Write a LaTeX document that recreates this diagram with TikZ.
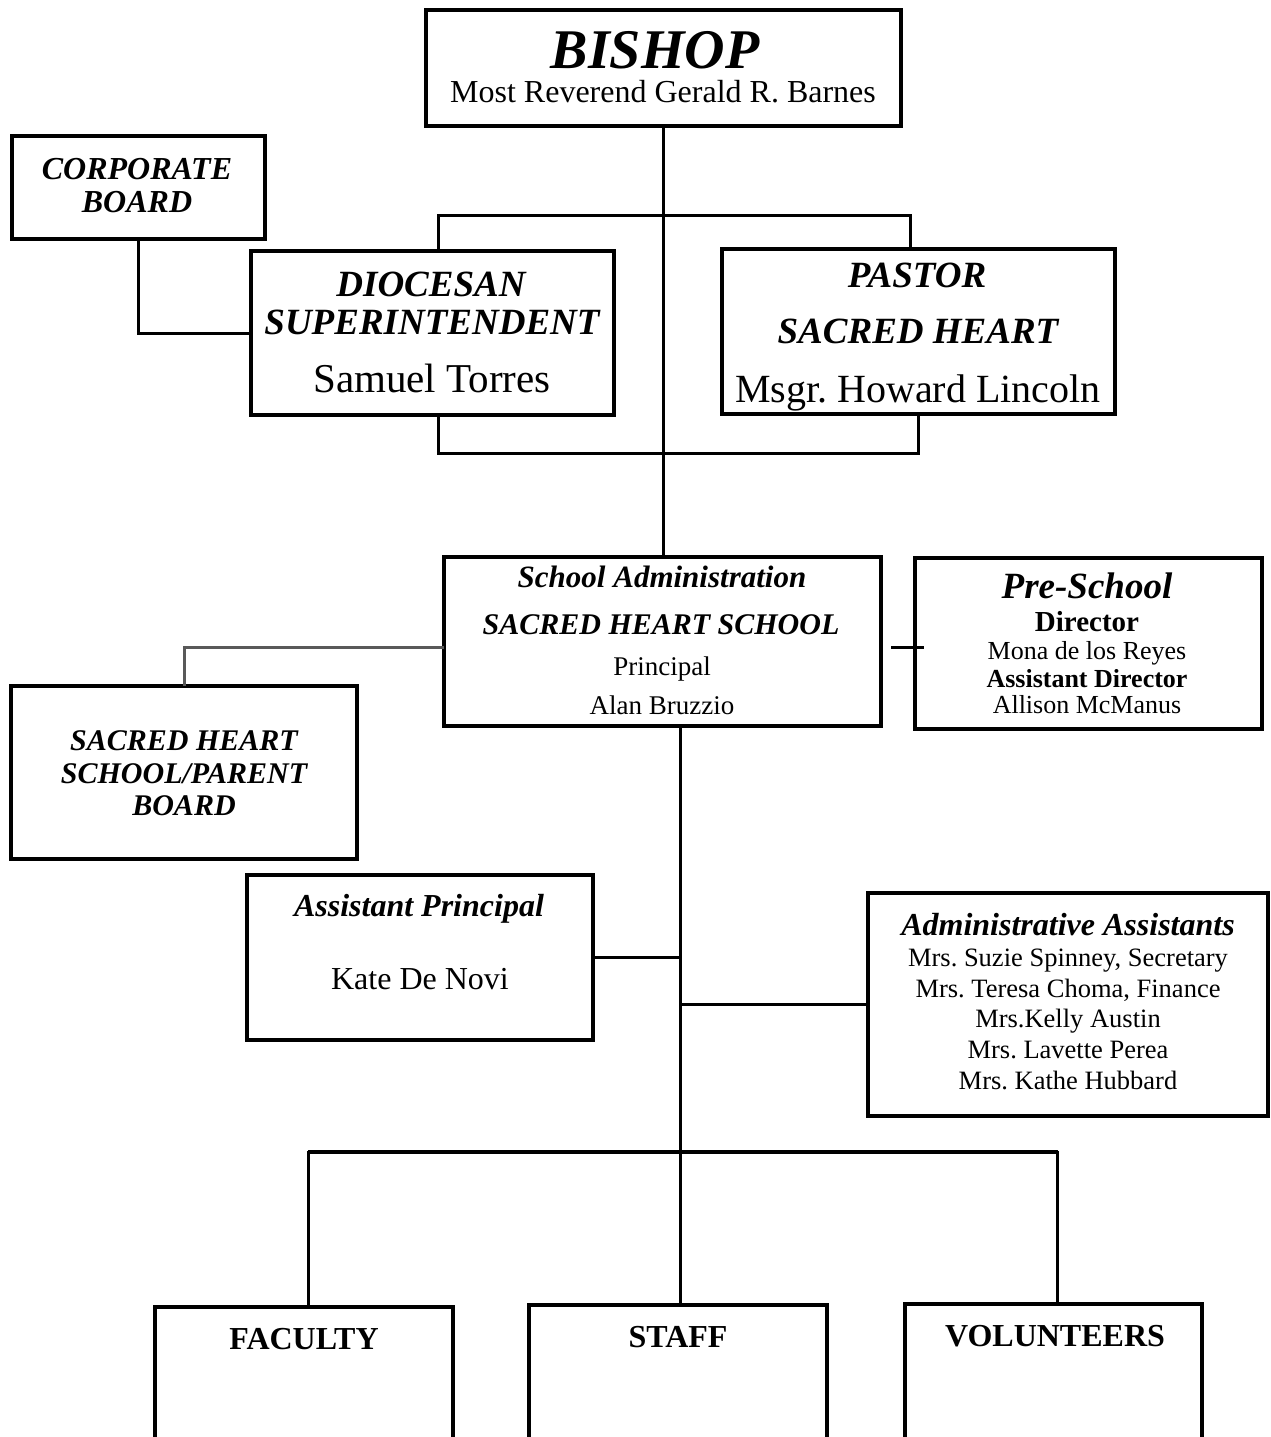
\documentclass[tikz,border=0pt]{standalone}
\usepackage{fontspec}
\setmainfont{Liberation Serif}
\frenchspacing
\newcommand\fsz[1]{\fontsize{#1pt}{#1pt}\selectfont}
\tikzset{
  box/.style={draw, line width=4.5pt, inner sep=0pt, outer sep=0pt},
  lbl/.style={anchor=base, inner sep=0pt, outer sep=0pt},
  link/.style={line width=3pt},
}

\begin{document}
\begin{tikzpicture}[x=1pt,y=-1pt]
\clip (0,0) rectangle (1271,1437) ;
% boxes
\node [box, minimum width=475pt, minimum height=116pt] (bishop) at (663.5,68) {} ;
\node [box, minimum width=253pt, minimum height=103pt] (corp) at (138.5,187.5) {} ;
\node [box, minimum width=363pt, minimum height=164pt] (dioc) at (432.5,333) {} ;
\node [box, minimum width=393pt, minimum height=165pt] (pastor) at (918.5,331.5) {} ;
\node [box, minimum width=437pt, minimum height=169pt] (admin) at (662.5,641.5) {} ;
\node [box, minimum width=347pt, minimum height=171pt] (pre) at (1088.5,643.5) {} ;
\node [box, minimum width=346pt, minimum height=173pt] (parent) at (184,772.5) {} ;
\node [box, minimum width=346pt, minimum height=165pt] (asst) at (420,957.5) {} ;
\node [box, minimum width=400pt, minimum height=223pt] (aides) at (1068,1004.5) {} ;
\node [box, minimum width=298pt, minimum height=173pt] (faculty) at (304,1393.5) {} ;
\node [box, minimum width=298pt, minimum height=175pt] (staff) at (678,1392.5) {} ;
\node [box, minimum width=297pt, minimum height=176pt] (volunteers) at (1053.5,1392) {} ;

% texts
\node [lbl] (bishopA) at (655,68) {\fsz{56}\bfseries\itshape BISHOP} ;
\node [lbl] (bishopB) at (663,102) {\fsz{32}Most Reverend Gerald R. Barnes} ;
\node [lbl] (corpA) at (137,179) {\fsz{32}\bfseries\itshape CORPORATE} ;
\node [lbl] (corpB) at (137,212) {\fsz{32}\bfseries\itshape BOARD} ;
\node [lbl] (diocA) at (431,296) {\fsz{37}\bfseries\itshape DIOCESAN} ;
\node [lbl] (diocB) at (432,334) {\fsz{37}\bfseries\itshape SUPERINTENDENT} ;
\node [lbl] (diocC) at (432,392) {\fsz{41}Samuel Torres} ;
\node [lbl] (pastorA) at (917,287) {\fsz{37}\bfseries\itshape PASTOR} ;
\node [lbl] (pastorB) at (918,343) {\fsz{37}\bfseries\itshape SACRED HEART} ;
\node [lbl] (pastorC) at (918,402) {\fsz{40}Msgr. Howard Lincoln} ;
\node [lbl] (adminA) at (662,587) {\fsz{31}\bfseries\itshape School Administration} ;
\node [lbl] (adminB) at (661,634) {\fsz{30}\bfseries\itshape SACRED HEART SCHOOL} ;
\node [lbl] (adminC) at (662,675) {\fsz{27}Principal} ;
\node [lbl] (adminD) at (662,714) {\fsz{27}Alan Bruzzio} ;
\node [lbl] (preA) at (1087,598) {\fsz{37}\bfseries\itshape Pre-School} ;
\node [lbl] (preB) at (1087,631) {\fsz{29}\bfseries Director} ;
\node [lbl] (preC) at (1087,659) {\fsz{26}Mona de los Reyes} ;
\node [lbl] (preD) at (1087,687) {\fsz{26}\bfseries Assistant Director} ;
\node [lbl] (preE) at (1087,713) {\fsz{26}Allison McManus} ;
\node [lbl] (parentA) at (184,750) {\fsz{30}\bfseries\itshape SACRED HEART} ;
\node [lbl] (parentB) at (184,783) {\fsz{30}\bfseries\itshape SCHOOL/PARENT} ;
\node [lbl] (parentC) at (184,815) {\fsz{30}\bfseries\itshape BOARD} ;
\node [lbl] (asstA) at (419,916) {\fsz{32}\bfseries\itshape Assistant Principal} ;
\node [lbl] (asstB) at (420,989) {\fsz{32}Kate De Novi} ;
\node [lbl] (aidesA) at (1068,935) {\fsz{32}\bfseries\itshape Administrative Assistants} ;
\foreach \y/\t in {966/{Mrs. Suzie Spinney, Secretary},
                   997/{Mrs. Teresa Choma, Finance},
                   1027/{Mrs.Kelly Austin},
                   1058/{Mrs. Lavette Perea},
                   1089/{Mrs. Kathe Hubbard}}
  \node [lbl] (aide\y) at (1068,\y) {\fsz{26.5}\t} ;
\node [lbl] (facultyA) at (304,1349) {\fsz{32}\bfseries FACULTY} ;
\node [lbl] (staffA) at (678,1347) {\fsz{32}\bfseries STAFF} ;
\node [lbl] (volunteersA) at (1055,1346) {\fsz{32}\bfseries VOLUNTEERS} ;

% connectors
\coordinate (topbar) at (662,215) ;
\coordinate (lowbar) at (662,453) ;
\coordinate (spine) at ([xshift=18pt]admin.south) ;
\coordinate (basebar) at (680,1152) ;
\draw [link] (bishop.south) -- (bishop.south |- admin.north) ;
\draw [link] ([xshift=6pt]dioc.north) |- (topbar) -| ([xshift=-8pt]pastor.north) ;
\draw [link] ([xshift=6pt]dioc.south) |- (lowbar) -| (pastor.south) ;
\draw [link] (corp.south) |- (dioc.west) ;
\draw [link, black!65] ([yshift=-6pt]admin.west) -| (parent.north) ;
\draw [link] ([xshift=-24pt,yshift=-4pt]pre.west) -- ([xshift=9pt,yshift=-4pt]pre.west) ;
\draw [link] (spine) -- (spine |- staff.north) ;
\draw [link] (asst.east) -- (asst.east -| spine) ;
\draw [link] (aides.west) -- (aides.west -| spine) ;
\draw [link] ([xshift=4pt]faculty.north) |- (basebar) ;
\draw [link, line width=4.5pt] ([xshift=4pt]faculty.north |- basebar)
      -- ([xshift=4pt]volunteers.north |- basebar) ;
\draw [link] (basebar) -| ([xshift=4pt]volunteers.north) ;
\end{tikzpicture}
\end{document}
